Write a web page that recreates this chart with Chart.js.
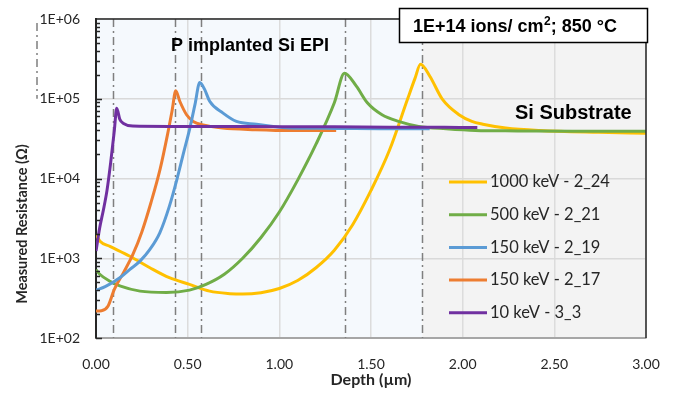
<!DOCTYPE html>
<html>
<head>
<meta charset="utf-8">
<script src="https://cdn.jsdelivr.net/npm/chart.js@4/dist/chart.umd.min.js"></script>
<style>
  html, body { margin: 0; padding: 0; background: #fff; }
  #wrap { width: 673px; height: 398px; position: relative; }
</style>
</head>
<body>
<div id="wrap"><canvas id="chart"></canvas></div>
<script>
// depth in um, resistance in ohm
const depth24 = [0, 0.022, 0.076, 0.185, 0.294, 0.40, 0.51, 0.62, 0.73, 0.80, 0.9, 1.0, 1.1, 1.2, 1.3, 1.4, 1.5, 1.6, 1.7, 1.74, 1.77, 1.82, 1.89, 1.98, 2.05, 2.11, 2.235, 2.42, 2.74, 3.0];
const res24 = [2000, 1630, 1410, 1060, 760, 570, 470, 387, 360, 355, 370, 417, 525, 760, 1260, 2630, 7080, 22400, 100000, 180000, 270000, 193000, 98000, 63000, 52000, 48000, 43000, 40000, 38000, 37000];

const depth21 = [0, 0.022, 0.076, 0.13, 0.24, 0.385, 0.51, 0.6, 0.7, 0.8, 0.9, 1.0, 1.1, 1.2, 1.3, 1.355, 1.42, 1.48, 1.56, 1.65, 1.76, 1.91, 2.07, 2.3, 2.6, 3.0];
const res21 = [720, 625, 515, 450, 387, 372, 398, 470, 630, 1000, 1820, 3800, 9550, 26900, 89000, 209000, 144000, 89000, 63000, 52000, 45000, 42000, 40000, 39500, 39000, 39000];

const depth19 = [0, 0.05, 0.13, 0.185, 0.24, 0.294, 0.348, 0.40, 0.44, 0.48, 0.51, 0.54, 0.566, 0.593, 0.62, 0.693, 0.766, 0.875, 1.056, 1.3, 1.55, 1.82];
const res19 = [398, 440, 570, 725, 920, 1290, 2080, 4470, 9500, 22000, 41000, 85000, 160000, 130000, 93000, 66000, 52000, 48000, 43000, 42500, 42000, 42000];

const depth17 = [0, 0.03, 0.065, 0.10, 0.15, 0.2, 0.25, 0.3, 0.35, 0.39, 0.415, 0.435, 0.457, 0.494, 0.53, 0.584, 0.69, 0.87, 1.06, 1.31];
const res17 = [218, 220, 250, 407, 660, 1100, 2140, 5000, 13200, 35500, 70800, 126000, 93000, 63000, 52000, 47000, 43000, 41000, 40000, 40000];

const depth3 = [0, 0.02, 0.04, 0.06, 0.08, 0.10, 0.113, 0.13, 0.15, 0.2, 0.4, 0.7, 1.0, 1.3, 1.6, 1.9, 2.08];
const res3 = [1230, 2400, 4000, 7100, 15800, 40000, 76000, 55000, 49000, 45500, 45000, 45000, 44500, 44500, 44000, 44000, 43500];

const seriesNames = ["1000 keV - 2_24", "500 keV - 2_21", "150 keV - 2_19", "150 keV - 2_17", "10 keV - 3_3"];
const seriesColors = ["#FFC000", "#70AD47", "#5B9BD5", "#ED7D31", "#7030A0"];
const drawOrder = [4, 3, 1, 2, 0];

const markerDepths = [0.09, 0.43, 0.57, 1.36, 1.78];
const substrateStart = 1.78;
const decades = [100, 1000, 10000, 100000, 1000000];

const pts = (xs, ys) => xs.map((x, i) => ({ x: x, y: ys[i] }));
const allSeries = [pts(depth24, res24), pts(depth21, res21), pts(depth19, res19), pts(depth17, res17), pts(depth3, res3)];

const FONT = "Lato, 'Open Sans', sans-serif";
const BOLD = "'Liberation Sans', Arial, sans-serif";

const decorations = {
  id: "decorations",
  beforeDraw(chart) {
    const { ctx, chartArea: a, scales } = chart;
    const xs = scales.x.getPixelForValue(substrateStart);
    ctx.save();
    ctx.fillStyle = "#f5f9fd";
    ctx.fillRect(a.left, a.top, xs - a.left, a.bottom - a.top);
    ctx.fillStyle = "#f3f3f3";
    ctx.fillRect(xs, a.top, a.right - xs, a.bottom - a.top);
    ctx.restore();
  },
  beforeDatasetsDraw(chart) {
    const { ctx, chartArea: a, scales } = chart;
    ctx.save();
    ctx.strokeStyle = "#7f7f7f";
    ctx.lineWidth = 1.5;
    ctx.setLineDash([8, 4, 2, 4]);
    markerDepths.forEach((d) => {
      const px = Math.round(scales.x.getPixelForValue(d)) + 0.5;
      ctx.beginPath();
      ctx.moveTo(px, a.top);
      ctx.lineTo(px, a.bottom);
      ctx.stroke();
    });
    // stray dash-dot line left of the axis labels
    ctx.beginPath();
    ctx.moveTo(37, scales.y.getPixelForValue(1000000) + 4);
    ctx.lineTo(37, scales.y.getPixelForValue(100000));
    ctx.stroke();
    ctx.restore();
  },
  afterDatasetsDraw(chart) {
    const { ctx, chartArea: a, scales } = chart;
    ctx.save();
    // frame: top and right dark
    ctx.strokeStyle = "#262626";
    ctx.lineWidth = 1.5;
    ctx.beginPath();
    ctx.moveTo(a.left, a.top);
    ctx.lineTo(a.right, a.top);
    ctx.lineTo(a.right, a.bottom);
    ctx.stroke();
    // log minor ticks inside the plot
    decades.slice(0, -1).forEach((dec) => {
      for (let m = 1; m <= 9; m++) {
        const py = Math.round(scales.y.getPixelForValue(dec * m)) + 0.5;
        ctx.beginPath();
        ctx.moveTo(a.left, py);
        ctx.lineTo(a.left + (m === 1 ? 6 : 4), py);
        ctx.stroke();
      }
    });
    // legend
    ctx.font = "16.5px " + FONT;
    ctx.textBaseline = "middle";
    seriesNames.forEach((name, i) => {
      const y = 182 + i * 32.7;
      ctx.strokeStyle = seriesColors[i];
      ctx.lineWidth = 3;
      ctx.beginPath();
      ctx.moveTo(449, y);
      ctx.lineTo(487, y);
      ctx.stroke();
      ctx.fillStyle = "#262626";
      ctx.fillText(name, 490, y);
    });
    // annotations
    ctx.fillStyle = "#000";
    ctx.textBaseline = "alphabetic";
    ctx.font = "bold 18px " + BOLD;
    ctx.fillText("P implanted Si EPI", 171, 51);
    ctx.font = "bold 20px " + BOLD;
    ctx.fillText("Si Substrate", 515, 119);
    ctx.fillStyle = "#fff";
    ctx.fillRect(399, 8, 249, 35);
    ctx.strokeStyle = "#000";
    ctx.lineWidth = 1.5;
    ctx.strokeRect(399.5, 8.5, 248, 34);
    ctx.fillStyle = "#000";
    let tx = 413;
    ctx.font = "bold 18px " + BOLD;
    ctx.fillText("1E+14 ions/ cm", tx, 32);
    tx += ctx.measureText("1E+14 ions/ cm").width + 0.5;
    ctx.font = "bold 12px " + BOLD;
    ctx.fillText("2", tx, 25);
    tx += ctx.measureText("2").width;
    ctx.font = "bold 18px " + BOLD;
    ctx.fillText("; 850 \u00B0C", tx, 32);
    // axis titles
    ctx.font = "bold 16px " + FONT;
    ctx.textAlign = "center";
    ctx.fillStyle = "#262626";
    ctx.fillText("Depth (\u00B5m)", (a.left + a.right) / 2, 385);
    ctx.translate(27, 224);
    ctx.rotate(-Math.PI / 2);
    ctx.font = "bold 14.5px " + FONT;
    ctx.fillText("Measured Resistance (\u03A9)", 0, 0);
    ctx.restore();
  }
};

new Chart(document.getElementById("chart"), {
  type: "line",
  data: {
    datasets: allSeries.map((data, i) => ({
      label: seriesNames[i],
      data: data,
      borderColor: seriesColors[i],
      backgroundColor: seriesColors[i],
      borderWidth: 3,
      pointRadius: 0,
      cubicInterpolationMode: "monotone",
      order: drawOrder[i],
    })),
  },
  options: {
    responsive: true,
    maintainAspectRatio: false,
    animation: false,
    layout: { padding: { left: 0, right: 27, top: 19, bottom: 0 } },
    plugins: {
      legend: { display: false },
      tooltip: { enabled: false },
    },
    scales: {
      x: {
        type: "linear",
        min: 0,
        max: 3,
        afterFit: (s) => { s.height = 60; s.paddingLeft = 0; s.paddingRight = 0; },
        ticks: {
          stepSize: 0.5,
          padding: 18,
          color: "#262626",
          font: { family: FONT, size: 14 },
          callback: (v) => Number(v).toFixed(2),
        },
        grid: { color: "#dcdcdc", lineWidth: 1.5, drawTicks: false },
        border: { color: "#a6a6a6", width: 2 },
      },
      y: {
        type: "logarithmic",
        min: 100,
        max: 1000000,
        afterFit: (s) => { s.width = 96; s.paddingTop = 0; s.paddingBottom = 0; },
        afterBuildTicks: (s) => { s.ticks = decades.map((v) => ({ value: v })); },
        ticks: {
          padding: 16,
          color: "#262626",
          font: { family: FONT, size: 14 },
          callback: (v) => "1E+" + String(Math.round(Math.log10(v))).padStart(2, "0"),
        },
        grid: { color: "#d9d9d9", lineWidth: 1.5, drawTicks: false },
        border: { color: "#262626", width: 2 },
      },
    },
  },
  plugins: [decorations],
});
</script>
</body>
</html>
